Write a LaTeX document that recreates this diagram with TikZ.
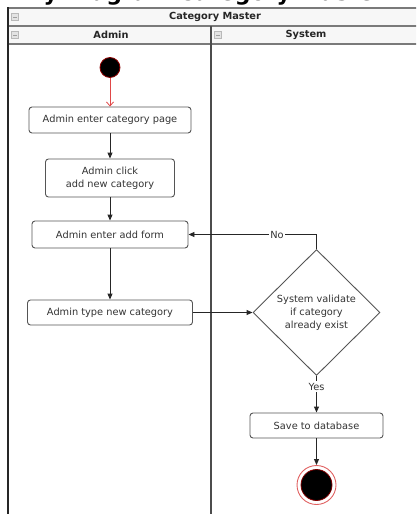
\documentclass[tikz,border=0pt]{standalone}
\usepackage{fontspec}
\setmainfont{DejaVu Sans}
\usetikzlibrary{arrows.meta,shapes.geometric}

\definecolor{ink}{HTML}{333333}
\definecolor{boxline}{HTML}{555555}
\definecolor{hdrfill}{HTML}{F7F7F7}
\definecolor{hdrline}{HTML}{7A7A7A}
\definecolor{startred}{HTML}{E04848}
\definecolor{ringred}{HTML}{E06060}

\tikzset{
  basefont/.style={font=\fontsize{9.8}{13}\selectfont, text=ink},
  act/.style={basefont, draw=boxline, line width=0.9pt, rounded corners=3pt,
    fill=white, align=center, inner sep=2pt},
  decision/.style={basefont, draw=boxline, line width=0.9pt, shape=diamond,
    shape aspect=1, inner sep=0pt, minimum width=127pt, minimum height=126pt,
    align=center},
  flow/.style={draw=black!85, line width=0.9pt, -{Triangle[length=6pt,width=5pt]}},
  initflow/.style={draw=startred, line width=0.8pt, -{Straight Barb[length=4pt,width=7pt]}},
  guard/.style={basefont, fill=white, inner sep=1.5pt},
  hdrtext/.style={font=\fontsize{9.8}{12}\selectfont\bfseries, text=black!85},
  minusicon/.style={draw=gray!55, fill=gray!22, minimum size=7pt, inner sep=0pt,
    path picture={\draw[gray!75, line width=0.6pt]
      ([xshift=1.6pt]path picture bounding box.west) --
      ([xshift=-1.6pt]path picture bounding box.east);}},
  startdot/.style={circle, fill=black, draw=red!55!black, line width=0.8pt,
    minimum size=20pt, inner sep=0pt},
  enddot/.style={circle, draw=ringred, line width=0.9pt, minimum size=39pt,
    inner sep=0pt, path picture={\fill[black, draw=red!50!black, line width=0.8pt]
      (path picture bounding box.center) circle (15.5pt);}}
}

\begin{document}
\begin{tikzpicture}[x=1pt, y=-1pt]
\useasboundingbox (0,0) rectangle (416,514);

% swimlane frame, clipped at the page edge (the page title runs off the top)
\begin{scope}
  \clip (0,0) rectangle (416,514);
  \node[anchor=base west, inner sep=0pt, font=\fontsize{22}{24}\selectfont\bfseries]
    (title) at (-37,0.2) {Activity Diagram Category Master};
  \fill[hdrfill] (8,8) rectangle (420,44);
  \draw[hdrline, line width=1.4pt] (8,8) -- (420,8);
  \draw[hdrline, line width=1.4pt] (8,26) -- (420,26);
  \draw[hdrline, line width=1.4pt] (8,44) -- (420,44);
  \draw[black!85, line width=1.6pt] (8,7.3) -- (8,516);
  \draw[black!70, line width=1.3pt] (211,26) -- (211,516);
\end{scope}

% header captions and collapse icons
\node[hdrtext] (pool) at (215,17) {Category Master};
\node[hdrtext] (laneA) at (111,35.2) {Admin};
\node[hdrtext] (laneS) at (306,35.2) {System};
\node[minusicon] (iconP) at (15,17) {};
\node[minusicon] (iconA) at (15,35) {};
\node[minusicon] (iconS) at (218,35) {};

% activities
\node[startdot] (start) at (110,67.5) {};
\node[act, minimum width=162pt, minimum height=26pt] (a1) at (110,120) {Admin enter category page};
\node[act, minimum width=129pt, minimum height=38pt] (a2) at (110,178) {Admin click\\add new category};
\node[act, minimum width=156pt, minimum height=27pt] (a3) at (110,234.5) {Admin enter add form};
\node[act, minimum width=165pt, minimum height=25pt] (a4) at (110,312.5) {Admin type new category};
\node[decision] (check) at (316.5,312.5) {System validate\\if category\\already exist};
\node[act, minimum width=133pt, minimum height=25pt] (save) at (316.5,425.5) {Save to database};
\node[enddot] (stop) at (316.5,485) {};

% control flow
\draw[initflow] (start) -- (a1);
\draw[flow] (a1) -- (a2);
\draw[flow] (a2) -- (a3);
\draw[flow] (a3) -- (a4);
\draw[flow] (a4.east) -- (check.west);
\draw[flow] (check.north) |- node[guard, pos=0.654] {No} (a3.east);
\draw[flow] (check.south) -- node[guard, pos=0.29] {Yes} (save.north);
\draw[flow] (save) -- (stop);
\end{tikzpicture}
\end{document}
